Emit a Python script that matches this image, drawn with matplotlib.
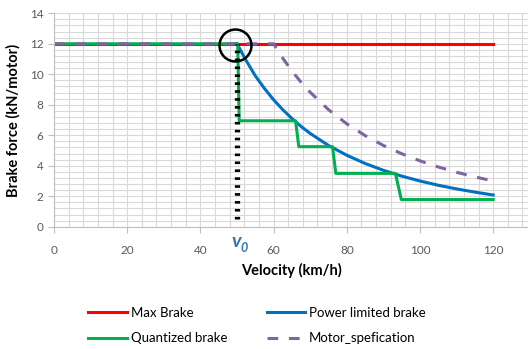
import matplotlib.pyplot as plt
from matplotlib.ticker import MultipleLocator

plt.rcParams['font.family'] = ['Lato', 'DejaVu Sans']

# max brake level
max_v = [0, 120]
max_f = [12, 12]

# power limited brake
power_v = [50, 52.5, 55, 57.5, 60, 62.5, 65, 67.5, 70, 75, 80, 85, 90, 95, 100, 105, 110, 115, 120]
power_f = [12, 10.9, 9.9, 9.07, 8.33, 7.68, 7.1, 6.58, 6.12, 5.33, 4.69, 4.15, 3.7, 3.32, 3.0,
           2.72, 2.48, 2.27, 2.08]

# quantized brake steps
quant_v = [0, 50.2, 50.6, 66.0, 66.9, 76.1, 77.0, 93.3, 94.9, 120]
quant_f = [12, 12, 6.95, 6.95, 5.25, 5.25, 3.5, 3.5, 1.78, 1.78]

# motor specification
motor_v = [0, 60, 62.5, 65, 67.5, 70, 75, 80, 85, 90, 95, 100, 105, 110, 115, 120]
motor_f = [12, 12, 11.06, 10.22, 9.48, 8.82, 7.68, 6.75, 5.98, 5.33, 4.79, 4.32, 3.92, 3.57,
           3.27, 3.0]

v0 = 50

fig = plt.figure(figsize=(5.28, 3.49), dpi=100)
ax = fig.add_axes([0.1023, 0.3504, 0.901, 0.6115])

l_max, = ax.plot(max_v, max_f, color='#ff0000', lw=2.2, label='Max Brake')
l_pow, = ax.plot(power_v, power_f, color='#0070c0', lw=2.2, label='Power limited brake')
l_q, = ax.plot(quant_v, quant_f, color='#00b050', lw=2.2, label='Quantized brake')
l_m, = ax.plot(motor_v, motor_f, color='#8064a2', lw=2.2, ls=(0, (3.5, 3.5)), label='Motor_spefication')

# v0 marker line and circle
ax.plot([v0, v0], [0.5, 12], color='black', lw=3.8, ls=(0, (0.5, 1.0)))
ax.plot([49.5], [11.9], marker='o', ms=23, mfc='none', mec='black', mew=1.8)

ax.set_xlim(0, 130)
ax.set_ylim(0, 14)
ax.xaxis.set_minor_locator(MultipleLocator(4))
ax.yaxis.set_major_locator(MultipleLocator(2))
ax.yaxis.set_minor_locator(MultipleLocator(0.4))
ax.set_xticks([0, 20, 40, 60, 80, 100, 120])
ax.grid(which='both', color='#d9d9d9', lw=0.8)
ax.set_axisbelow(True)
for s in ['top', 'right']:
    ax.spines[s].set_visible(False)
for s in ['left', 'bottom']:
    ax.spines[s].set_color('#bfbfbf')
ax.tick_params(which='major', length=4, color='#bfbfbf', labelsize=8.5, labelcolor='#595959')
ax.tick_params(which='minor', length=0)
ax.tick_params(axis='x', pad=9)

ax.set_xlabel('Velocity (km/h)', fontsize=10.5, fontweight='bold', labelpad=5)
ax.set_ylabel('Brake force (kN/motor)', fontsize=10.5, fontweight='bold', labelpad=7)

fig.text(0.447, 0.307, 'v', color='#2e75b6', fontsize=14, fontweight='bold',
         fontstyle='italic', ha='center', va='center')
fig.text(0.463, 0.29, '0', color='#2e75b6', fontsize=9, fontweight='bold',
         fontstyle='italic', ha='center', va='center')

fig.legend(handles=[l_max, l_q, l_pow, l_m], ncol=2, frameon=False,
           loc='center', bbox_to_anchor=(0.487, 0.067), fontsize=9.5,
           handlelength=2.9, columnspacing=3.0, labelspacing=1.0, handletextpad=0.3)

fig.savefig('out.png', dpi=100)
